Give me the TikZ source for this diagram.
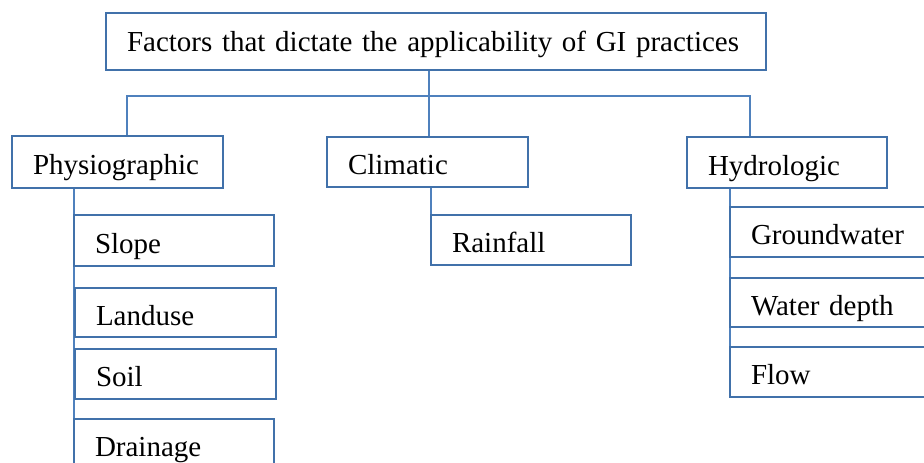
\documentclass[tikz,border=0pt]{standalone}
\usepackage{fontspec}
\setmainfont{Liberation Serif}
\definecolor{boxcol}{RGB}{65,113,170}
\definecolor{linecol}{RGB}{79,129,189}
\tikzset{
  box/.style={draw=boxcol, line width=1.6pt, fill=white, inner ysep=0pt, inner xsep=21pt,
    outer sep=0pt, align=left, anchor=north west, font=\fontsize{29}{34}\selectfont,
    text height=27pt, text depth=2pt},
  conn/.style={draw=linecol, line width=1.4pt}
}
\begin{document}
\begin{tikzpicture}[x=1pt,y=-1pt]
\clip (0,0) rectangle (924,463);
\fill[white] (0,0) rectangle (924,463);
% named junctions
\coordinate (jL) at (127,96);
\coordinate (jC) at (429,96);
\coordinate (jR) at (750,96);
% boxes (positions)
\path
  node[box, text width=618pt, minimum height=57pt, text height=21pt] (top) at (106,13) {Factors that dictate the applicability of GI practices}
  node[box, text width=169pt, minimum height=52pt] (phys) at (12,136) {Physiographic}
  node[box, text width=159pt, minimum height=50pt] (clim) at (327,137) {Climatic}
  node[box, text width=158pt, minimum height=51pt] (hydro) at (687,137) {Hydrologic}
  node[box, text width=158pt, minimum height=51pt] (slope) at (74,215) {Slope}
  node[box, text width=159pt, minimum height=49pt] (landuse) at (75,288) {Landuse}
  node[box, text width=159pt, minimum height=50pt] (soil) at (75,349) {Soil}
  node[box, text width=158pt, minimum height=50pt] (drain) at (74,419) {Drainage}
  node[box, text width=158pt, minimum height=50pt] (rain) at (431,215) {Rainfall}
  node[box, text width=158pt, minimum height=50pt] (ground) at (730,207) {Groundwater}
  node[box, text width=158pt, minimum height=49pt] (wdepth) at (730,278) {Water depth}
  node[box, text width=158pt, minimum height=50pt] (flow) at (730,347) {Flow};
% connectors
\begin{scope}[on background layer/.style={}]
\draw[conn] (jC |- top.south) -- (jC |- clim.north);
\draw[conn] (jL |- phys.north) -- (jL) -- (jR) -- (jR |- hydro.north);
\draw[conn] (slope.west |- phys.south) -- (slope.west |- drain.south);
\draw[conn] (rain.west |- clim.south) -- (rain.north west);
\draw[conn] (ground.west |- hydro.south) -- (flow.south west);
\end{scope}
% redraw boxes' outlines on top of connectors
\foreach \n in {top,phys,clim,hydro,slope,landuse,soil,drain,rain,ground,wdepth,flow}
  \draw[draw=boxcol, line width=1.6pt] (\n.north west) rectangle (\n.south east);
\end{tikzpicture}
\end{document}
